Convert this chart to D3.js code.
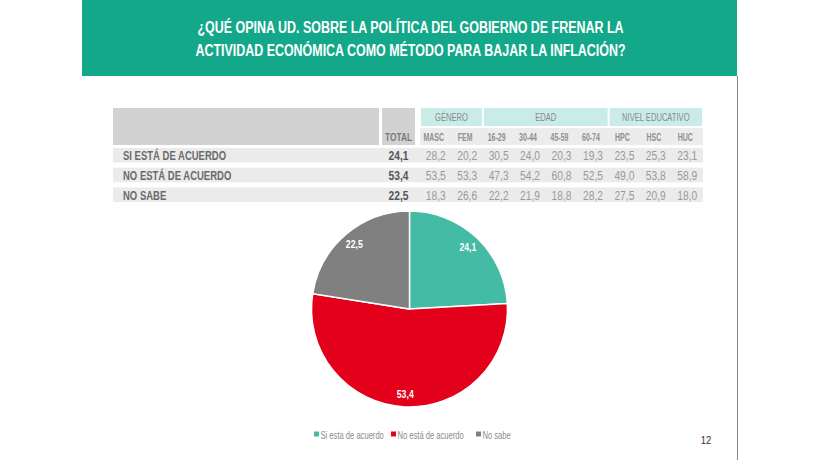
<!DOCTYPE html>
<html>
<head>
<meta charset="utf-8">
<script src="https://cdn.jsdelivr.net/npm/d3@7"></script>
<style>
  body { margin: 0; background: #fff; }
  svg { display: block; font-family: "Liberation Sans", Arial, sans-serif; }
</style>
</head>
<body>
<svg id="chart" width="819" height="460"></svg>
<script>
// --- data ---
const titleLines = [
  "¿QUÉ OPINA UD. SOBRE LA POLÍTICA DEL GOBIERNO DE FRENAR LA",
  "ACTIVIDAD ECONÓMICA COMO MÉTODO PARA BAJAR LA INFLACIÓN?"
];
const answers = ["SI ESTÁ DE ACUERDO", "NO ESTÁ DE ACUERDO", "NO SABE"];
const legendLabels = ["Si esta de acuerdo", "No está de acuerdo", "No sabe"];
const totals = [24.1, 53.4, 22.5];
const groups = [
  {name: "GÉNERO", cols: ["MASC", "FEM"]},
  {name: "EDAD", cols: ["16-29", "30-44", "45-59", "60-74"]},
  {name: "NIVEL EDUCATIVO", cols: ["HPC", "HSC", "HUC"]}
];
const columns = groups.flatMap(g => g.cols);
const tableValues = [
  [28.2, 20.2, 30.5, 24.0, 20.3, 19.3, 23.5, 25.3, 23.1],
  [53.5, 53.3, 47.3, 54.2, 60.8, 52.5, 49.0, 53.8, 58.9],
  [18.3, 26.6, 22.2, 21.9, 18.8, 28.2, 27.5, 20.9, 18.0]
];
const pageNumber = "12";

const sliceColors = ["#43bba5", "#e3001b", "#808080"];
const fmt = v => d3.format(".1f")(v).replace(".", ",");
const SX = 0.76; // horizontal squeeze to mimic a condensed face

const svg = d3.select("#chart");

// text placed at (x,y) and squeezed horizontally around its anchor
function cText(parent, x, y, str, size, opts = {}) {
  return parent.append("text")
    .attr("transform", `translate(${x},${y}) scale(${opts.sx || SX},1)`)
    .attr("text-anchor", opts.anchor || "start")
    .attr("font-size", size)
    .attr("font-weight", opts.weight || "normal")
    .attr("fill", opts.fill || "#333")
    .text(str);
}

// --- banner ---
svg.append("rect").attr("x", 82).attr("y", 0).attr("width", 655).attr("height", 76).attr("fill", "#13a88a");
svg.append("g").selectAll("text").data(titleLines).join("text")
  .attr("x", 410.5).attr("y", (d, i) => 33 + i * 23)
  .attr("text-anchor", "middle").attr("fill", "#fff")
  .attr("font-size", 16).attr("font-weight", "bold")
  .attr("textLength", (d, i) => i === 0 ? 426 : 430)
  .attr("lengthAdjust", "spacingAndGlyphs")
  .text(d => d);

// right border line
svg.append("line").attr("x1", 737.5).attr("x2", 737.5).attr("y1", 76).attr("y2", 460)
  .attr("stroke", "#8a8a8a").attr("stroke-width", 1);

// --- table ---
const x = d3.scaleBand().domain(columns).range([420, 703]);
const y = d3.scaleBand().domain(answers).range([147, 203]).paddingInner(0.26).paddingOuter(0.05);
const table = svg.append("g");

// header blocks
table.append("rect").attr("x", 113).attr("y", 108).attr("width", 266).attr("height", 37).attr("fill", "#d2d2d2");
table.append("rect").attr("x", 382).attr("y", 108).attr("width", 33).attr("height", 37).attr("fill", "#d2d2d2");
cText(table, 398.5, 141, "TOTAL", 11, {anchor: "middle", weight: "bold", fill: "#7a7a7a"});

table.append("rect").attr("x", 420).attr("y", 128).attr("width", 283).attr("height", 17).attr("fill", "#ececec");

groups.forEach(g => {
  const x0 = x(g.cols[0]) + 1;
  const x1 = x(g.cols[g.cols.length - 1]) + x.bandwidth() - 1;
  table.append("rect").attr("x", x0).attr("y", 108).attr("width", x1 - x0).attr("height", 18).attr("fill", "#c9ece8");
  cText(table, (x0 + x1) / 2, 121, g.name, 10, {anchor: "middle", fill: "#8a8a8a"});
});

columns.forEach(c => {
  cText(table, x(c) + x.bandwidth() / 2 - 2, 141, c, 10, {anchor: "middle", weight: "bold", fill: "#8f8f8f", sx: 0.7});
});

// rows
answers.forEach((a, i) => {
  const row = table.append("g").attr("transform", `translate(0,${y(a)})`);
  const by = y.bandwidth() / 2 + 5;
  row.append("rect").attr("x", 113).attr("width", 590).attr("height", y.bandwidth()).attr("fill", "#ebebeb");
  cText(row, 123, by, a, 12.5, {weight: "bold", fill: "#6a6a6a"});
  cText(row, 398.5, by, fmt(totals[i]), 13.5, {anchor: "middle", weight: "bold", fill: "#555"});
  tableValues[i].forEach((v, j) => {
    cText(row, x(columns[j]) + x.bandwidth() / 2, by, fmt(v), 13.5, {anchor: "middle", fill: "#9a9a9a"});
  });
});

// --- pie ---
const radius = 98;
const pie = d3.pie().sort(null).value(d => d);
const arc = d3.arc().innerRadius(0).outerRadius(radius);
const labelArc = d3.arc().innerRadius(85).outerRadius(85);
const pieG = svg.append("g").attr("transform", "translate(409.5,309)");
const slices = pieG.selectAll("g").data(pie(totals)).join("g");
slices.append("path").attr("d", arc).attr("fill", (d, i) => sliceColors[i])
  .attr("stroke", "#fff").attr("stroke-width", 1.5);
slices.each(function(d) {
  const [cx, cy] = labelArc.centroid(d);
  cText(d3.select(this), cx, cy + 4, fmt(d.data), 11.5, {anchor: "middle", weight: "bold", fill: "#fff"});
});

// --- legend ---
const legendX = [314, 391, 476];
legendLabels.forEach((l, i) => {
  const g = svg.append("g").attr("transform", `translate(${legendX[i]},435)`);
  g.append("rect").attr("x", 0).attr("y", -3.5).attr("width", 5).attr("height", 5).attr("fill", sliceColors[i]);
  cText(g, 6.5, 3.5, l, 10, {fill: "#8a8a8a"});
});

// page number
cText(svg, 706, 444, pageNumber, 11, {anchor: "middle", fill: "#333", sx: 0.85});
</script>
</body>
</html>
